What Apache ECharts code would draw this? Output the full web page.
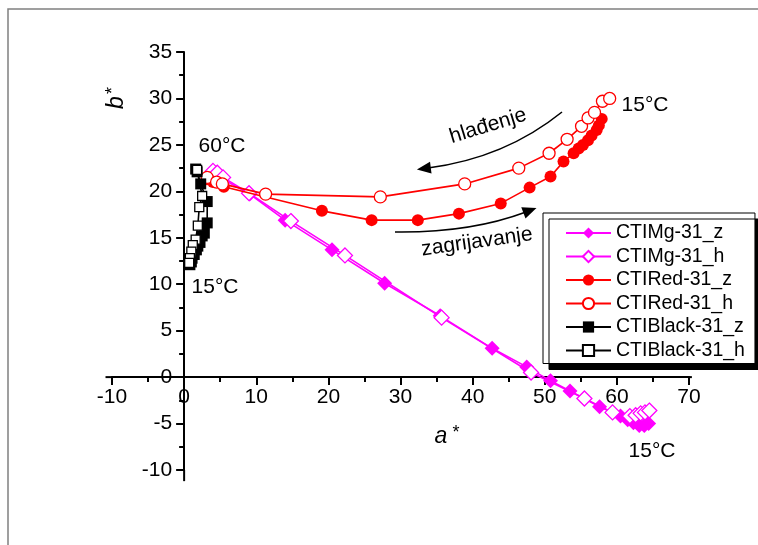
<!DOCTYPE html>
<html><head><meta charset="utf-8">
<script src="https://cdn.jsdelivr.net/npm/echarts@6/dist/echarts.min.js"></script>
<style>html,body{margin:0;padding:0;background:#fff}#c{width:758px;height:545px}</style>
</head><body><div id="c"></div>
<script>
// ---- data (a*, b*) ----
const seriesNames = ['CTIMg-31_z','CTIMg-31_h','CTIRed-31_z','CTIRed-31_h','CTIBlack-31_z','CTIBlack-31_h'];
const mgZ = [[64.4,-5.0],[63.8,-5.2],[63.1,-5.2],[62.3,-4.9],[61.5,-4.6],[60.5,-4.2],[57.6,-3.2],[53.5,-1.5],[50.8,-0.4],[47.5,1.1],[42.7,3.1],[35.5,6.6],[27.8,10.1],[20.5,13.7],[14.0,16.9],[9.1,19.7],[4.7,21.6],[3.9,22.1]];
const mgH = [[4.0,22.2],[4.6,22.0],[5.4,21.5],[9.0,19.8],[14.8,16.8],[22.3,13.1],[35.7,6.4],[48.1,0.5],[55.5,-2.3],[59.4,-3.8],[61.8,-4.2],[62.6,-4.1],[63.3,-3.9],[63.9,-3.8],[64.5,-3.6]];
const redZ = [[57.9,27.8],[57.5,27.1],[57.2,26.6],[56.5,26.0],[56.0,25.5],[55.3,25.0],[54.7,24.6],[54.0,24.1],[52.6,23.2],[50.8,21.6],[47.9,20.4],[43.9,18.7],[38.1,17.6],[32.4,16.9],[26.0,16.9],[19.1,17.9],[5.5,20.5],[4.0,21.0],[3.2,21.3]];
const redH = [[3.2,21.5],[4.5,21.0],[5.3,20.8],[11.3,19.7],[27.2,19.4],[38.9,20.8],[46.4,22.5],[50.6,24.1],[53.1,25.6],[55.1,27.0],[56.0,27.9],[56.9,28.5],[58.0,29.7],[59.0,30.0]];
const blackZ = [[0.8,12.1],[1.0,12.4],[1.1,12.8],[1.4,13.2],[1.7,13.7],[1.9,14.1],[2.2,14.5],[2.5,15.2],[2.8,15.5],[3.2,16.6],[3.2,18.9],[2.3,20.8],[1.8,22.1],[1.6,22.4]];
const blackH = [[1.8,22.3],[2.5,19.5],[2.1,18.3],[1.9,16.3],[1.6,14.8],[1.2,14.2],[1.0,13.5],[0.8,12.8],[0.7,12.3]];
const xTicks = {min:-10, max:70, step:10};
const yTicks = {min:-10, max:35, step:5};
const annotations = [
  {text:'60°C', x:222, y:146},
  {text:'15°C', x:215, y:287},
  {text:'15°C', x:645, y:105},
  {text:'15°C', x:652, y:451}
];

const FONT = '"Liberation Sans", Arial, sans-serif';
const MG = '#ff00ff', RED = '#ff0000', BLK = '#000000';
const chart = echarts.init(document.getElementById('c'), null, {renderer:'canvas'});

function mk(name, data, color, symbol, size, filled, lw, z) {
  return {
    name, type:'line', data, symbol, symbolSize:size, showSymbol:true, z,
    lineStyle:{color, width:lw},
    itemStyle: filled ? {color, borderColor:color, borderWidth:0} : {color:'#fff', borderColor:color, borderWidth:1.3},
    emphasis:{disabled:true}, animation:false, clip:false
  };
}

const axisCommon = {
  type:'value',
  splitLine:{show:false},
  axisLine:{show:true, onZero:false, lineStyle:{color:'#000', width:2}},
  axisTick:{show:true, length:8, lineStyle:{color:'#000', width:2}},
  minorTick:{show:true, splitNumber:2, length:5, lineStyle:{color:'#000', width:2}},
  axisLabel:{color:'#000', fontFamily:FONT, fontSize:21},
};

chart.setOption({
  animation:false,
  backgroundColor:'#fff',
  grid:{left:112, top:52, width:577, height:418, containLabel:false},
  xAxis: Object.assign({}, axisCommon, {min:xTicks.min, max:xTicks.max, interval:xTicks.step, position:'bottom',
    axisLabel:Object.assign({}, axisCommon.axisLabel, {margin:10})}),
  yAxis: Object.assign({}, axisCommon, {min:yTicks.min, max:yTicks.max, interval:yTicks.step, position:'left',
    axisLabel:Object.assign({}, axisCommon.axisLabel, {margin:12})}),
  legend:{
    orient:'vertical', left:543, top:213,
    data: seriesNames,
    itemWidth:45, itemHeight:14, itemGap:3.5,
    padding:[10, 10, 3, 22],
    backgroundColor:'#fff', borderColor:'#000', borderWidth:1,
    shadowColor:'#000', shadowBlur:0, shadowOffsetX:6, shadowOffsetY:6,
    textStyle:{color:'#000', fontFamily:FONT, fontSize:19.5, lineHeight:20},
    selectedMode:false
  },
  series:[
    mk(seriesNames[0], mgZ, MG, 'diamond', 15, true, 1.6, 3),
    mk(seriesNames[1], mgH, MG, 'diamond', 15, false, 1.6, 3),
    mk(seriesNames[2], redZ, RED, 'circle', 12, true, 1.6, 4),
    mk(seriesNames[3], redH, RED, 'circle', 12, false, 1.6, 4),
    mk(seriesNames[4], blackZ, BLK, 'rect', 11, true, 1.6, 5),
    mk(seriesNames[5], blackH, BLK, 'rect', 9, false, 1.6, 5)
  ]
});

// move axes to cross at zero (offset computed through the library's scale)
const p = (x,y) => chart.convertToPixel({gridIndex:0}, [x,y]);
const xOff = -(p(0, yTicks.min)[1] - p(0, 0)[1]);
const yOff = -(p(0, 0)[0] - p(xTicks.min, 0)[0]);
chart.setOption({xAxis:{offset:xOff}, yAxis:{offset:yOff}});

// decorations
const g = [];
g.push({type:'rect', shape:{x:8, y:9, width:800, height:600}, style:{fill:null, stroke:'#808080', lineWidth:1.5}, z:0, silent:true});
const yEndA = p(0,-10), yEndB = p(0,-11.2);
const xL0 = p(-10.9,0), xL1 = p(-10,0), xR0 = p(70,0), xR1 = p(70.4,0);
g.push({type:'line', shape:{x1:yEndA[0], y1:yEndA[1], x2:yEndB[0], y2:yEndB[1]}, style:{stroke:'#000', lineWidth:2}, z:10});
g.push({type:'line', shape:{x1:xL0[0], y1:xL0[1], x2:xL1[0], y2:xL1[1]}, style:{stroke:'#000', lineWidth:2}, z:10});
g.push({type:'line', shape:{x1:xR0[0], y1:xR0[1], x2:xR1[0], y2:xR1[1]}, style:{stroke:'#000', lineWidth:2}, z:10});
g.push({type:'text', x:117, y:98, rotation:Math.PI/2, style:{
  text:'{i|b}{s|*}', align:'center', verticalAlign:'middle',
  rich:{i:{fontFamily:FONT, fontSize:23, fontStyle:'italic', fill:'#000'}, s:{fontFamily:FONT, fontSize:18, fill:'#000', padding:[0,0,8,2]}}
}, z:10});
g.push({type:'text', x:447, y:437, style:{
  text:'{i|a}{s| *}', align:'center', verticalAlign:'middle',
  rich:{i:{fontFamily:FONT, fontSize:23, fontStyle:'italic', fill:'#000'}, s:{fontFamily:FONT, fontSize:18, fill:'#000', padding:[0,0,8,0]}}
}, z:10});
annotations.forEach(a => g.push({type:'text', x:a.x, y:a.y, style:{text:a.text, font:'21px '+FONT, fill:'#000', align:'center', verticalAlign:'middle'}, z:10}));
g.push({type:'text', x:488, y:126, rotation:17*Math.PI/180, style:{text:'hlađenje', font:'21px '+FONT, fill:'#000', align:'center', verticalAlign:'middle'}, z:10});
g.push({type:'text', x:477, y:242, rotation:8*Math.PI/180, style:{text:'zagrijavanje', font:'21px '+FONT, fill:'#000', align:'center', verticalAlign:'middle'}, z:10});
function arrow(x1,y1,cx,cy,x2,y2){
  g.push({type:'bezierCurve', shape:{x1,y1,x2,y2,cpx1:cx,cpy1:cy}, style:{stroke:'#000', lineWidth:1.6, fill:null}, z:10});
  let dx=x2-cx, dy=y2-cy; const L=Math.hypot(dx,dy); dx/=L; dy/=L;
  const len=14, hw=6;
  const tx=x2+dx*len*0.8, ty=y2+dy*len*0.8;
  const bx=tx-dx*len, by=ty-dy*len;
  g.push({type:'polygon', shape:{points:[[tx,ty],[bx-dy*hw,by+dx*hw],[bx+dy*hw,by-dx*hw]]}, style:{fill:'#000'}, z:10});
}
arrow(562,112,505,158,428,168);
arrow(395,232,470,233,526,212);
chart.setOption({graphic:g});
</script></body></html>
